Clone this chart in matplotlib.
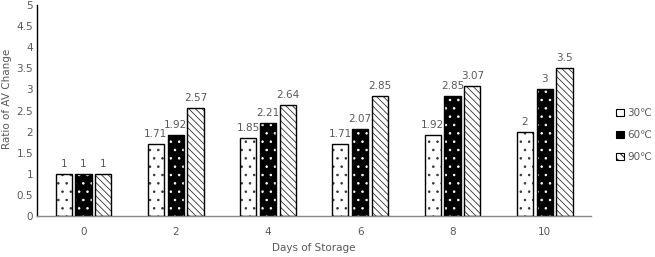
import matplotlib
matplotlib.use("Agg")
import matplotlib.pyplot as plt
import numpy as np
from matplotlib.patches import Patch

days = ["0", "2", "4", "6", "8", "10"]
series_names = ["30℃", "60℃", "90℃"]
v30 = [1, 1.71, 1.85, 1.71, 1.92, 2]
v60 = [1, 1.92, 2.21, 2.07, 2.85, 3]
v90 = [1, 2.57, 2.64, 2.85, 3.07, 3.5]
labels30 = ["1", "1.71", "1.85", "1.71", "1.92", "2"]
labels60 = ["1", "1.92", "2.21", "2.07", "2.85", "3"]
labels90 = ["1", "2.57", "2.64", "2.85", "3.07", "3.5"]

plt.rcParams['hatch.linewidth'] = 0.6
fig = plt.figure(figsize=(6.55, 2.57), dpi=100)
ax = fig.add_axes([0.057, 0.16, 0.845, 0.82])

x = np.arange(len(days))
w = 0.175
step = 0.215
gray = "#595959"

styles = [
    dict(face="white", hatch="..", hcol="#333333"),
    dict(face="black", hatch="..", hcol="white"),
    dict(face="white", hatch="\\\\\\\\\\", hcol="#333333"),
]
for i, (vals, labs, st) in enumerate(zip([v30, v60, v90], [labels30, labels60, labels90], styles)):
    pos = x + (i - 1) * step
    ax.bar(pos, vals, w, color=st["face"], edgecolor=st["hcol"], hatch=st["hatch"], linewidth=0, zorder=2)
    ax.bar(pos, vals, w, fill=False, edgecolor="black", linewidth=1.0, zorder=3)
    for p, v, t in zip(pos, vals, labs):
        ax.text(p, v + 0.12, t, ha="center", va="bottom", fontsize=7.5, color=gray)

handles = [
    Patch(facecolor="white", edgecolor="black", hatch="..", linewidth=0.8),
    Patch(facecolor="black", edgecolor="black", linewidth=0.8),
    Patch(facecolor="white", edgecolor="black", hatch="\\\\\\\\", linewidth=0.8),
]
leg = fig.legend(handles, series_names, loc="upper left", bbox_to_anchor=(0.933, 0.6),
                 frameon=False, fontsize=7.5, handlelength=0.7, handleheight=0.7,
                 handletextpad=0.35, labelspacing=1.15, borderpad=0)
for t in leg.get_texts():
    t.set_color(gray)

ax.set_xlim(-0.5, 5.5)
ax.set_ylim(0, 5)
ax.set_yticks(np.arange(0, 5.01, 0.5))
ax.set_yticklabels(["0", "0.5", "1", "1.5", "2", "2.5", "3", "3.5", "4", "4.5", "5"])
ax.set_xticks(x)
ax.set_xticklabels(days)
ax.tick_params(axis="both", length=0, labelsize=7.5, labelcolor=gray, pad=8)
ax.tick_params(axis="y", pad=3)
for s in ["top", "right"]:
    ax.spines[s].set_visible(False)
ax.spines["left"].set_color("black")
ax.spines["left"].set_linewidth(1.0)
ax.spines["bottom"].set_color("#888888")
ax.spines["bottom"].set_linewidth(1.0)

ax.set_xlabel("Days of Storage", fontsize=7.5, color=gray, labelpad=4)
fig.text(0.011, 0.615, "Ratio of AV Change", rotation=90, ha="center", va="center", fontsize=7.5, color=gray)

fig.savefig("out.png", dpi=100)
